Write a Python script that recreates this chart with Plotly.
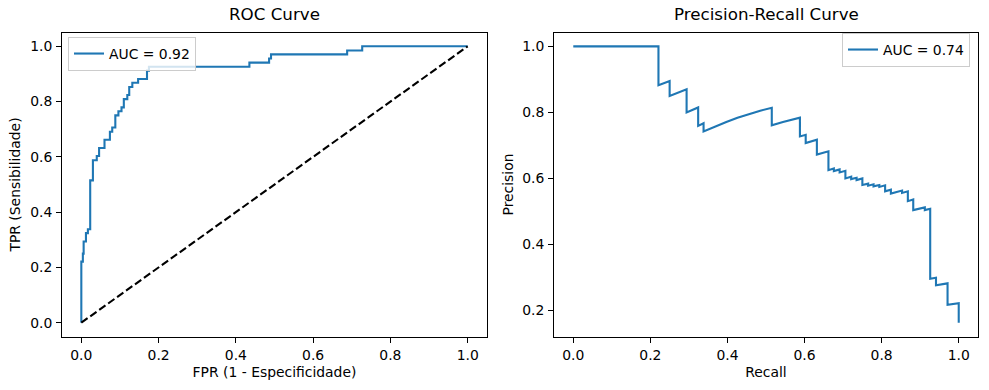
import plotly.graph_objects as go

# ROC curve vertices (FPR, TPR)
roc_fpr = [0.0, 0.0, 0.004, 0.004, 0.006, 0.006, 0.012, 0.012, 0.017, 0.017, 0.023, 0.023,
           0.030, 0.030, 0.040, 0.040, 0.046, 0.046, 0.060, 0.060, 0.074, 0.074, 0.080, 0.080,
           0.088, 0.088, 0.096, 0.096, 0.104, 0.104, 0.110, 0.110, 0.119, 0.119, 0.124, 0.124,
           0.132, 0.132, 0.147, 0.147, 0.170, 0.170, 0.175, 0.175, 0.435, 0.435, 0.486, 0.486,
           0.491, 0.491, 0.688, 0.688, 0.727, 0.727, 1.0]
roc_tpr = [0.0, 0.221, 0.221, 0.250, 0.250, 0.294, 0.294, 0.324, 0.324, 0.338, 0.338, 0.515,
           0.515, 0.588, 0.588, 0.603, 0.603, 0.632, 0.632, 0.662, 0.662, 0.691, 0.691, 0.706,
           0.706, 0.750, 0.750, 0.765, 0.765, 0.779, 0.779, 0.809, 0.809, 0.824, 0.824, 0.853,
           0.853, 0.868, 0.868, 0.882, 0.882, 0.912, 0.912, 0.926, 0.926, 0.941, 0.941, 0.956,
           0.956, 0.971, 0.971, 0.985, 0.985, 1.0, 1.0]
chance_x = [0.0, 1.0]
chance_y = [0.0, 1.0]

# Precision-Recall curve vertices (recall, precision)
pr_recall = [0.000, 0.221, 0.221, 0.250, 0.250, 0.294, 0.294, 0.324, 0.324, 0.338, 0.338,
             0.368, 0.397, 0.426, 0.456, 0.485, 0.515, 0.515, 0.544, 0.574, 0.588, 0.588,
             0.603, 0.603, 0.618, 0.632, 0.632, 0.647, 0.662, 0.662, 0.676, 0.676, 0.691,
             0.691, 0.706, 0.706, 0.721, 0.721, 0.735, 0.735, 0.750, 0.750, 0.765, 0.765,
             0.779, 0.779, 0.794, 0.794, 0.809, 0.809, 0.824, 0.824, 0.838, 0.853, 0.853,
             0.868, 0.868, 0.882, 0.882, 0.897, 0.912, 0.912, 0.926, 0.926, 0.941, 0.941,
             0.956, 0.971, 0.971, 0.985, 1.000, 1.000]
pr_precision = [1.000, 1.000, 0.882, 0.895, 0.850, 0.870, 0.800, 0.815, 0.759, 0.767, 0.742,
                0.758, 0.771, 0.784, 0.795, 0.805, 0.814, 0.761, 0.771, 0.780, 0.784, 0.727,
                0.732, 0.707, 0.712, 0.717, 0.672, 0.677, 0.682, 0.625, 0.630, 0.622, 0.627,
                0.618, 0.623, 0.600, 0.605, 0.598, 0.602, 0.595, 0.600, 0.580, 0.584, 0.578,
                0.582, 0.576, 0.580, 0.574, 0.579, 0.561, 0.566, 0.554, 0.559, 0.563, 0.556,
                0.561, 0.531, 0.536, 0.504, 0.508, 0.512, 0.504, 0.508, 0.296, 0.299, 0.276,
                0.279, 0.282, 0.217, 0.220, 0.222, 0.163]

roc_label = "AUC = 0.92"
pr_label = "AUC = 0.74"
tick_vals = [0.0, 0.2, 0.4, 0.6, 0.8, 1.0]
tick_text = ["0.0", "0.2", "0.4", "0.6", "0.8", "1.0"]

BLUE = "#1f77b4"
FONT = "DejaVu Sans"
W, H = 989, 390

fig = go.Figure()
fig.add_trace(go.Scatter(x=roc_fpr, y=roc_tpr, mode="lines", name=roc_label,
                         line=dict(color=BLUE, width=2.1), xaxis="x", yaxis="y",
                         legend="legend"))
fig.add_trace(go.Scatter(x=chance_x, y=chance_y, mode="lines", showlegend=False,
                         line=dict(color="black", width=2.1, dash="7.7px,3.3px"),
                         xaxis="x", yaxis="y"))
fig.add_trace(go.Scatter(x=pr_recall, y=pr_precision, mode="lines", name=pr_label,
                         line=dict(color=BLUE, width=2.1), xaxis="x2", yaxis="y2",
                         legend="legend2"))

# axes geometry in page pixels
L1, R1 = 62, 487
L2, R2 = 554, 978
TOP, BOT = 32.5, 336.5


def px(v):
    return v / W


def py(v):
    return 1 - v / H


axis_common = dict(showline=True, linecolor="black", linewidth=1, mirror=True,
                   ticks="outside", ticklen=5, tickwidth=1, tickcolor="black",
                   showgrid=False, zeroline=False, ticklabelstandoff=1,
                   tickfont=dict(family=FONT, size=13.9, color="black"))

fig.update_layout(
    width=W, height=H,
    margin=dict(l=0, r=0, t=0, b=0),
    paper_bgcolor="white", plot_bgcolor="white",
    font=dict(family=FONT, size=13.9, color="black"),
    xaxis=dict(domain=[px(L1), px(R1)], range=[-0.05, 1.05], anchor="y",
               tickvals=tick_vals, ticktext=tick_text,
               title=dict(text="FPR (1 - Especificidade)", standoff=5,
                          font=dict(family=FONT, size=13.9)), **axis_common),
    yaxis=dict(domain=[py(BOT), py(TOP)], range=[-0.05, 1.05], anchor="x",
               tickvals=tick_vals, ticktext=tick_text,
               title=dict(text="TPR (Sensibilidade)", standoff=6,
                          font=dict(family=FONT, size=13.9)), **axis_common),
    xaxis2=dict(domain=[px(L2), px(R2)], range=[-0.05, 1.05], anchor="y2",
                tickvals=tick_vals, ticktext=tick_text,
                title=dict(text="Recall", standoff=5, font=dict(family=FONT, size=13.9)),
                **axis_common),
    yaxis2=dict(domain=[py(BOT), py(TOP)], range=[0.121, 1.042], anchor="x2",
                tickvals=tick_vals[1:], ticktext=tick_text[1:],
                title=dict(text="Precision", standoff=5, font=dict(family=FONT, size=13.9)),
                **axis_common),
    legend=dict(x=px(68), y=py(37), xanchor="left", yanchor="top",
                bordercolor="#cccccc", borderwidth=1, bgcolor="rgba(255,255,255,0.8)",
                font=dict(family=FONT, size=13.9), itemwidth=30),
    legend2=dict(x=px(970), y=py(33), xanchor="right", yanchor="top",
                 bordercolor="#cccccc", borderwidth=1, bgcolor="rgba(255,255,255,0.8)",
                 font=dict(family=FONT, size=13.9), itemwidth=30),
    annotations=[
        dict(text="ROC Curve", x=px((L1 + R1) / 2), y=py(14), xref="paper", yref="paper",
             xanchor="center", yanchor="middle", showarrow=False,
             font=dict(family=FONT, size=16.7, color="black")),
        dict(text="Precision-Recall Curve", x=px((L2 + R2) / 2), y=py(14), xref="paper",
             yref="paper", xanchor="center", yanchor="middle", showarrow=False,
             font=dict(family=FONT, size=16.7, color="black")),
    ],
)

fig.write_html("out.html", config={"displayModeBar": False},
               post_script="document.body.style.margin='0px';")
